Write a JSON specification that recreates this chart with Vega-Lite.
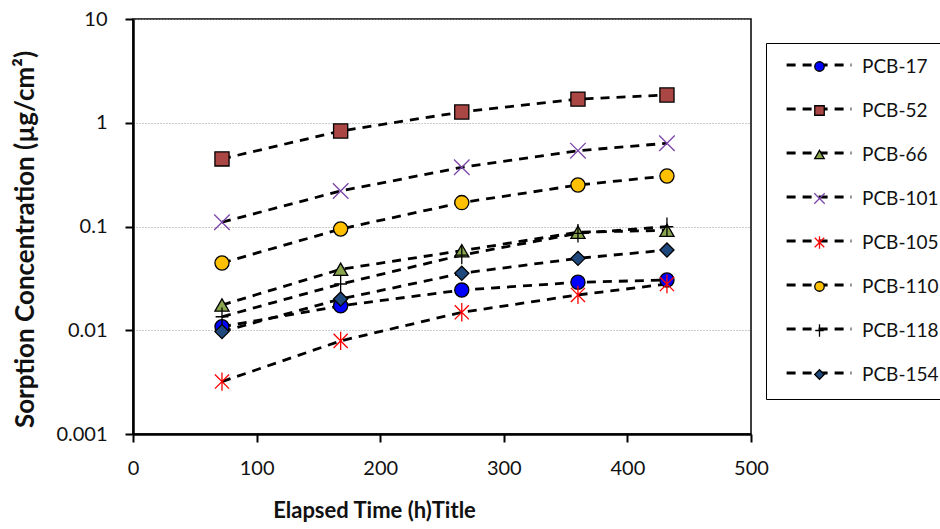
{
  "$schema": "https://vega.github.io/schema/vega-lite/v6.json",
  "width": 618,
  "height": 415,
  "autosize": {"type": "none"},
  "padding": {"left": 133, "top": 19, "right": 189, "bottom": 95},
  "background": "#ffffff",
  "config": {
    "font": "Lato",
    "view": {"stroke": "#000000", "strokeWidth": 1.5},
    "axis": {
      "labelFont": "Lato",
      "labelFontSize": 20,
      "labelColor": "#111111",
      "titleFont": "Lato",
      "titleFontWeight": "bold",
      "titleColor": "#111111",
      "domainColor": "#000000",
      "tickColor": "#000000",
      "domainWidth": 2.5,
      "tickWidth": 2,
      "tickSize": 8
    }
  },
  "data": {
    "values": [
      {"series": "PCB-17", "t": 72, "c": 0.0108},
      {"series": "PCB-17", "t": 168, "c": 0.0172},
      {"series": "PCB-17", "t": 266, "c": 0.0244},
      {"series": "PCB-17", "t": 360, "c": 0.029},
      {"series": "PCB-17", "t": 432, "c": 0.0305},
      {"series": "PCB-52", "t": 72, "c": 0.448},
      {"series": "PCB-52", "t": 168, "c": 0.833},
      {"series": "PCB-52", "t": 266, "c": 1.27},
      {"series": "PCB-52", "t": 360, "c": 1.69},
      {"series": "PCB-52", "t": 432, "c": 1.85},
      {"series": "PCB-66", "t": 72, "c": 0.0175},
      {"series": "PCB-66", "t": 168, "c": 0.0387},
      {"series": "PCB-66", "t": 266, "c": 0.0585},
      {"series": "PCB-66", "t": 360, "c": 0.088},
      {"series": "PCB-66", "t": 432, "c": 0.092},
      {"series": "PCB-101", "t": 72, "c": 0.11},
      {"series": "PCB-101", "t": 168, "c": 0.22},
      {"series": "PCB-101", "t": 266, "c": 0.372},
      {"series": "PCB-101", "t": 360, "c": 0.538},
      {"series": "PCB-101", "t": 432, "c": 0.634},
      {"series": "PCB-105", "t": 72, "c": 0.0032},
      {"series": "PCB-105", "t": 168, "c": 0.0079},
      {"series": "PCB-105", "t": 266, "c": 0.0149},
      {"series": "PCB-105", "t": 360, "c": 0.0219},
      {"series": "PCB-105", "t": 432, "c": 0.0279},
      {"series": "PCB-110", "t": 72, "c": 0.0445},
      {"series": "PCB-110", "t": 168, "c": 0.0946},
      {"series": "PCB-110", "t": 266, "c": 0.17},
      {"series": "PCB-110", "t": 360, "c": 0.251},
      {"series": "PCB-110", "t": 432, "c": 0.307},
      {"series": "PCB-118", "t": 72, "c": 0.0135},
      {"series": "PCB-118", "t": 168, "c": 0.0279},
      {"series": "PCB-118", "t": 266, "c": 0.053},
      {"series": "PCB-118", "t": 360, "c": 0.086},
      {"series": "PCB-118", "t": 432, "c": 0.0995},
      {"series": "PCB-154", "t": 72, "c": 0.0097},
      {"series": "PCB-154", "t": 168, "c": 0.02},
      {"series": "PCB-154", "t": 266, "c": 0.0354},
      {"series": "PCB-154", "t": 360, "c": 0.0493},
      {"series": "PCB-154", "t": 432, "c": 0.0593}
    ]
  },
  "encoding": {
    "x": {
      "field": "t",
      "type": "quantitative",
      "scale": {"domain": [0, 500], "nice": false, "zero": true},
      "axis": {
        "title": "Elapsed Time (h)Title",
        "titleFontSize": 22,
        "values": [0, 100, 200, 300, 400, 500],
        "grid": false,
        "labelFlush": false,
        "labelPadding": 16,
        "titlePadding": 22,
        "titleX": 241,
        "titleAnchor": null,
        "titleAlign": "center"
      }
    },
    "y": {
      "field": "c",
      "type": "quantitative",
      "scale": {"type": "log", "domain": [0.001, 10], "nice": false},
      "axis": {
        "title": "Sorption Concentration (µg/cm²)",
        "titleFontSize": 26,
        "titleY": 220,
        "values": [0.001, 0.01, 0.1, 1, 10],
        "format": "~g",
        "grid": true,
        "gridColor": "#999999",
        "gridDash": [1, 2],
        "gridWidth": 1,
        "labelFlush": false,
        "labelPadding": 18,
        "titlePadding": 17
      }
    }
  },
  "layer": [
    {
      "mark": {"type": "line", "strokeDash": [10, 7], "strokeWidth": 2.8, "color": "#000000"},
      "encoding": {
        "strokeDash": {
          "field": "series",
          "type": "nominal",
          "scale": {"range": [[9, 7]]},
          "legend": {
            "orient": "none",
            "legendX": 633,
            "legendY": -7,
            "title": null,
            "symbolType": "stroke",
            "symbolSize": 4200,
            "symbolStrokeWidth": 2.8,
            "symbolStrokeColor": "#000000",
            "labelExpr": "''",
            "labelFontSize": 18,
            "padding": 19,
            "rowPadding": 1
          }
        }
      }
    },
    {
      "mark": {"type": "point", "filled": true, "size": 200, "opacity": 1},
      "encoding": {
        "shape": {
          "field": "series",
          "type": "nominal",
          "scale": {
            "domain": ["PCB-17", "PCB-52", "PCB-66", "PCB-101", "PCB-105", "PCB-110", "PCB-118", "PCB-154"],
            "range": [
              "circle",
              "square",
              "triangle-up",
              "M-1.1,-1.1L1.1,1.1M-1.1,1.1L1.1,-1.1",
              "M-1,-1L1,1M-1,1L1,-1M0,-1.3L0,1.3",
              "circle",
              "M-0.9,0L0.9,0M0,-1.3L0,1.3",
              "diamond"
            ]
          },
          "legend": {
            "orient": "none",
            "legendX": 633,
            "legendY": 24,
            "title": null,
            "symbolSize": 90,
            "symbolOffset": 30,
            "labelOffset": 33,
            "labelFont": "Lato",
            "labelFontSize": 19,
            "labelColor": "#111111",
            "strokeColor": "#000000",
            "padding": 14,
            "rowPadding": 24
          }
        },
        "fill": {
          "field": "series",
          "type": "nominal",
          "scale": {
            "domain": ["PCB-17", "PCB-52", "PCB-66", "PCB-101", "PCB-105", "PCB-110", "PCB-118", "PCB-154"],
            "range": ["#0000ff", "#aa4643", "#89a54e", "transparent", "transparent", "#ffc000", "transparent", "#1f497d"]
          }
        },
        "stroke": {
          "field": "series",
          "type": "nominal",
          "scale": {
            "domain": ["PCB-17", "PCB-52", "PCB-66", "PCB-101", "PCB-105", "PCB-110", "PCB-118", "PCB-154"],
            "range": ["#000000", "#000000", "#000000", "#7b45a8", "#ff0000", "#000000", "#000000", "#000000"]
          }
        },
        "strokeWidth": {
          "field": "series",
          "type": "nominal",
          "scale": {
            "domain": ["PCB-17", "PCB-52", "PCB-66", "PCB-101", "PCB-105", "PCB-110", "PCB-118", "PCB-154"],
            "range": [1.3, 1.3, 1.3, 2, 2, 1.3, 2, 1.3]
          }
        }
      }
    }
  ]
}
